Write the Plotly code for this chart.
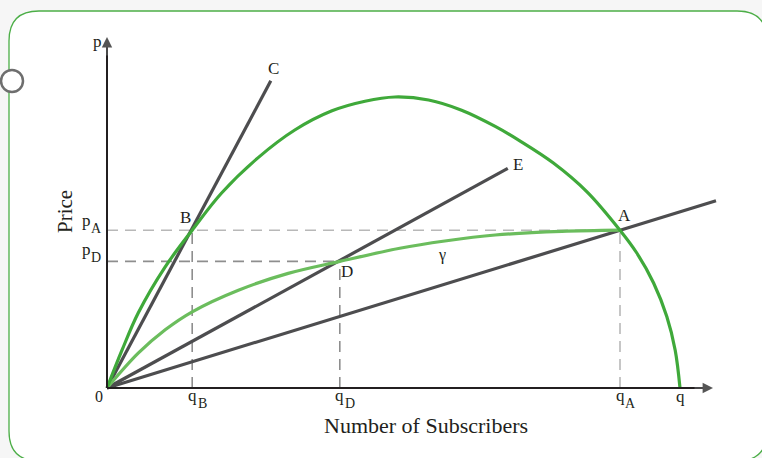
import plotly.graph_objects as go

# Data (units: 1 = 60 px of the original figure, origin at the axes corner)

# key points
q_B, q_D, q_A = 1.42, 3.88, 8.55
p_A, p_D = 2.63, 2.11
q_max = 9.55

# rays from the origin: end points
ray_C = (2.73, 5.12)
ray_E = (6.68, 3.66)
ray_A = (10.15, 3.12)

# dark green curve (frontier)
arc_x = [0.0, 0.25, 0.52, 0.97, 1.42, 1.91, 2.52, 3.13, 3.75, 4.30, 4.80,
         5.36, 5.91, 6.47, 6.88, 7.44, 8.00, 8.55, 8.83, 9.11, 9.33, 9.47, 9.55]
arc_y = [0.0, 0.63, 1.25, 2.02, 2.63, 3.25, 3.84, 4.30, 4.62, 4.78, 4.85,
         4.80, 4.63, 4.36, 4.12, 3.75, 3.27, 2.63, 2.25, 1.75, 1.19, 0.63, 0.0]

# light green curve (gamma)
gam_x = [0.0, 0.52, 0.97, 1.42, 2.19, 3.02, 3.88, 4.88, 5.63, 6.47, 7.58, 8.55]
gam_y = [0.0, 0.58, 0.97, 1.27, 1.63, 1.91, 2.11, 2.33, 2.45, 2.55, 2.61, 2.63]

# Figure

W, H = 762, 458
X0, Y0, S = 107, 388, 60.0  # origin pixel and scale

def px(x):
    return x / W

def py(y):
    return 1 - y / H

fig = go.Figure()

dash_dark = dict(color='#8e8e8e', width=1.6, dash='11px,7px')
dash_light = dict(color='#b8b8b8', width=1.6, dash='11px,7px')

fig.add_trace(go.Scatter(x=[0, q_A], y=[p_A, p_A], mode='lines', line=dash_light))
fig.add_trace(go.Scatter(x=[0, q_D], y=[p_D, p_D], mode='lines', line=dash_dark))
fig.add_trace(go.Scatter(x=[q_B, q_B], y=[0, p_A], mode='lines', line=dash_dark))
fig.add_trace(go.Scatter(x=[q_D, q_D], y=[0, p_D], mode='lines', line=dash_dark))
fig.add_trace(go.Scatter(x=[q_A, q_A], y=[0, p_A], mode='lines', line=dash_light))

gray = '#4d4d4f'
for end in (ray_C, ray_E, ray_A):
    fig.add_trace(go.Scatter(x=[0, end[0]], y=[0, end[1]], mode='lines',
                             line=dict(color=gray, width=3.2)))

fig.add_trace(go.Scatter(x=gam_x, y=gam_y, mode='lines',
                         line=dict(color='#6bbd5d', width=3.2, shape='spline', smoothing=1.0)))
fig.add_trace(go.Scatter(x=arc_x, y=arc_y, mode='lines',
                         line=dict(color='#3fa93a', width=3.2, shape='spline', smoothing=1.0)))

# frame, circle, axes
r = 30
L, T, R, B = 9, 11, 767, 461
frame = (f"M {px(L)},{py(T + r)} Q {px(L)},{py(T)} {px(L + r)},{py(T)} "
         f"L {px(R - r)},{py(T)} Q {px(R)},{py(T)} {px(R)},{py(T + r)} "
         f"L {px(R)},{py(B - r)} Q {px(R)},{py(B)} {px(R - r)},{py(B)} "
         f"L {px(L + r)},{py(B)} Q {px(L)},{py(B)} {px(L)},{py(B - r)} Z")
shapes = [
    dict(type='path', path=frame, xref='paper', yref='paper',
         line=dict(color='#4cae47', width=1.3), fillcolor='white', layer='below'),
    dict(type='circle', xref='paper', yref='paper',
         x0=px(1), x1=px(23), y0=py(70), y1=py(92),
         line=dict(color='#6e6e6e', width=2.5), fillcolor='white'),
    dict(type='line', x0=0, y0=0, x1=(706 - X0) / S, y1=0,
         line=dict(color='#231f20', width=2)),
    dict(type='line', x0=0, y0=0, x1=0, y1=(Y0 - 44) / S,
         line=dict(color='#231f20', width=2)),
]

font = dict(family='Liberation Serif, DejaVu Serif, serif', color='#231f20')

def label(text, x, y, dx=0, dy=0, size=17, **kw):
    return dict(text=text, x=x, y=y, xshift=dx, yshift=dy, showarrow=False,
                font=dict(size=size, **font), **kw)

def sublabel(main, sub, x, y, dx, dy):
    return [label(main, x, y, dx=dx, dy=dy, size=17),
            label(sub, x, y, dx=dx + 10, dy=dy - 8, size=14)]

annotations = [
    # axis arrow heads
    dict(x=(713 - X0) / S, y=0, ax=(693 - X0) / S, ay=0, axref='x', ayref='y',
         showarrow=True, arrowhead=2, arrowsize=1.3, arrowwidth=1.6, arrowcolor='#555555', text=''),
    dict(x=0, y=(Y0 - 37) / S, ax=0, ay=(Y0 - 57) / S, axref='x', ayref='y',
         showarrow=True, arrowhead=2, arrowsize=1.3, arrowwidth=1.6, arrowcolor='#555555', text=''),
    label('p', 0, (Y0 - 41) / S, dx=-10, dy=0),
    label('0', 0, 0, dx=-8, dy=-8, size=16),
    label('q', q_max, 0, dy=-8),
    label('B', q_B, p_A, dx=-6.5, dy=13),
    label('A', q_A, p_A, dx=4.5, dy=15),
    label('D', q_D, p_D, dx=7.5, dy=-10.5),
    label('C', ray_C[0], ray_C[1], dx=2.5, dy=12),
    label('E', ray_E[0], ray_E[1], dx=10, dy=4),
    label('γ', 5.58, 2.21, size=16),
    label('Number of Subscribers', (426 - X0) / S, (Y0 - 425) / S, size=22),
    label('Price', (65 - X0) / S, (Y0 - 212) / S, size=21, textangle=-90),
]
annotations += sublabel('q', 'B', q_B, 0, 0, -7)
annotations += sublabel('q', 'D', q_D, 0, 0, -7)
annotations += sublabel('q', 'A', q_A, 0, 0, -7)
annotations += sublabel('p', 'A', 0, p_A, -21, 10)
annotations += sublabel('p', 'D', 0, p_D, -21, 12)

fig.update_layout(
    width=W, height=H, margin=dict(l=0, r=0, t=0, b=0),
    paper_bgcolor='#f6f6f6', plot_bgcolor='rgba(0,0,0,0)',
    showlegend=False, shapes=shapes, annotations=annotations,
    xaxis=dict(range=[-X0 / S, (W - X0) / S], visible=False, fixedrange=True),
    yaxis=dict(range=[(Y0 - H) / S, Y0 / S], visible=False, fixedrange=True),
)

fig.write_html("out.html", config={'displayModeBar': False},
               post_script="document.body.style.margin = '0';")
